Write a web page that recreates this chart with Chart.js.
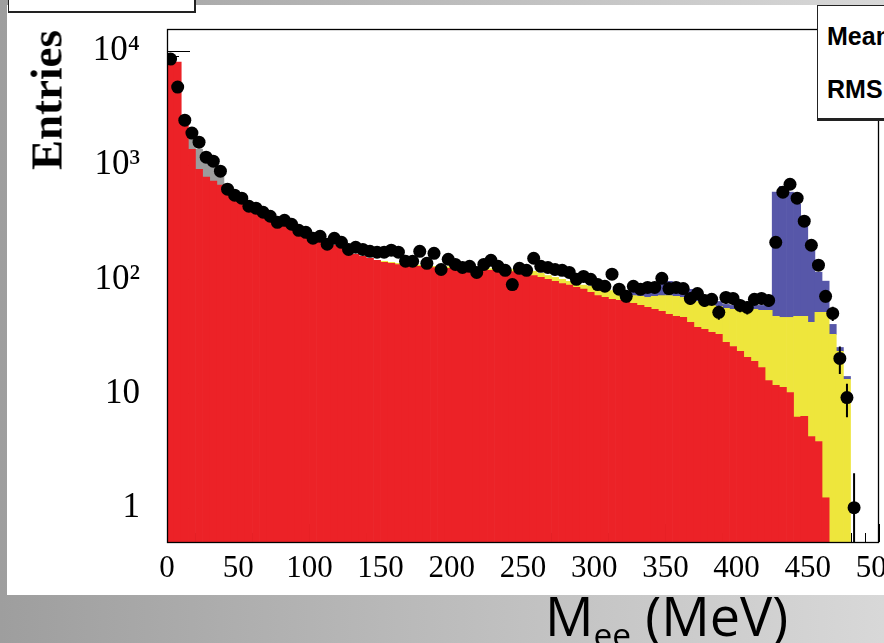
<!DOCTYPE html>
<html><head><meta charset="utf-8">
<script src="https://cdn.jsdelivr.net/npm/chart.js@4"></script>
<style>
html,body{margin:0;padding:0;}
body{width:884px;height:643px;overflow:hidden;position:relative;background:linear-gradient(90deg,#9e9e9e 0%,#b9b9b9 45%,#d8d8d8 100%);}
#panel{position:absolute;left:7px;top:5px;width:877px;height:590px;background:#fff;}
#wrap{position:absolute;left:0;top:0;width:884px;height:643px;}
canvas{display:block;}
.box{position:absolute;background:#fff;box-sizing:border-box;}
#tlbox{left:8px;top:-12px;width:188px;height:25px;border:1px solid #222;border-right-width:2px;border-bottom-width:2px;}
#stat{left:817px;top:5px;width:80px;height:116px;border:1px solid #222;border-bottom-width:3px;border-right:none;}
.st{position:absolute;left:9px;font:bold 25px 'Liberation Sans',Arial,sans-serif;line-height:1;color:#000;white-space:nowrap;}
#ytitle{position:absolute;left:47px;top:100px;transform:translate(-50%,-50%) rotate(-90deg);font:bold 45px 'Liberation Serif',serif;line-height:1;white-space:nowrap;color:#000;}
#xtitle{position:absolute;left:545px;top:588px;font:54px 'Open Sans',sans-serif;line-height:1;white-space:nowrap;color:#000;}
#xtitle sub{font-size:0.62em;vertical-align:-0.32em;line-height:0;}
</style></head>
<body>
<div id="panel"></div>
<div id="wrap"><canvas id="c" width="884" height="643"></canvas></div>
<div class="box" id="tlbox"></div>
<div class="box" id="stat"><span class="st" style="top:18px">Mean</span><span class="st" style="top:71px">RMS</span></div>
<div id="ytitle">Entries</div>
<div id="xtitle">M<sub>ee</sub> (MeV)</div>
<script>
// bin centres (MeV), 5 MeV bins from 0 to 500
const BIN_CENTERS = [2.5,7.5,12.5,17.5,22.5,27.5,32.5,37.5,42.5,47.5,
 52.5,57.5,62.5,67.5,72.5,77.5,82.5,87.5,92.5,97.5,
 102.5,107.5,112.5,117.5,122.5,127.5,132.5,137.5,142.5,147.5,
 152.5,157.5,162.5,167.5,172.5,177.5,182.5,187.5,192.5,197.5,
 202.5,207.5,212.5,217.5,222.5,227.5,232.5,237.5,242.5,247.5,
 252.5,257.5,262.5,267.5,272.5,277.5,282.5,287.5,292.5,297.5,
 302.5,307.5,312.5,317.5,322.5,327.5,332.5,337.5,342.5,347.5,
 352.5,357.5,362.5,367.5,372.5,377.5,382.5,387.5,392.5,397.5,
 402.5,407.5,412.5,417.5,422.5,427.5,432.5,437.5,442.5,447.5,
 452.5,457.5,462.5,467.5,472.5,477.5,482.5,487.5,492.5,497.5];

const RED = [8200,8000,2640,1380,922,785,724,668,616,568,
 524,474,437,403,372,343,316,298,275,258,
 238,224,211,199,187,176,166,159,153,147,
 141,138,135,135,133,130,130,127,127,125,
 125,125,122,122,122,120,120,117,117,115,
 111,108,104,100,96,92,89,85,82,77,
 72,69.5,66.8,65.4,64.1,61.6,59.1,56.8,54.6,52.4,
 49.3,47.4,46.4,42,37.9,36.4,34.3,32.9,28,25.8,
 23.4,20.7,19.1,16.9,13,11.8,11.3,10.2,6.2,6.3,
 4.2,3.8,1.22,null,null,null,null,null,null,null];

const GRAY = [null,null,null,380,458,299,296,218,25,null,
 null,null,null,null,null,null,null,null,null,null,
 null,null,null,null,null,null,null,null,null,null,
 null,null,null,null,null,null,null,null,null,null,
 null,null,null,null,null,null,null,null,null,null,
 null,null,null,null,null,null,null,null,null,null,
 null,null,null,null,null,null,null,null,null,null,
 null,null,null,null,null,null,null,null,null,null,
 null,null,null,null,null,null,null,null,null,null,
 null,null,null,null,null,null,null,null,null,null];

const YELLOW = [null,null,null,null,null,null,null,null,null,null,
 null,null,null,null,null,null,null,null,null,null,
 null,null,null,null,null,null,null,null,null,null,
 3,3,3,3,3,3,3,3,4,4,
 4,4,4,4,4,4,4,4,5,5,
 9,9.5,9,8,8,8,7,7,7,10,
 13,12.5,13,11.6,10,10.4,12,12.7,16.4,19.6,
 22.7,23.6,23.1,24.8,26.2,25.2,24.8,25.1,27.7,28.8,
 30.1,33.9,35.5,36.6,40.5,35.6,35.1,36.2,41.2,41.1,
 37.8,47.6,50.2,32.9,23.4,13.3,null,null,null,null];

const BLUE = [null,null,null,null,null,null,null,null,null,null,
 null,null,null,null,null,null,null,null,null,null,
 null,null,null,null,null,null,null,null,null,null,
 null,null,null,null,null,null,null,null,null,null,
 null,null,null,null,null,null,null,null,null,null,
 null,null,null,null,null,null,null,null,null,null,
 null,null,null,3,4.5,6.5,9,12.5,14,22,
 24,23,20.5,15,8,8,7.7,6,4.6,4.5,
 5.6,4.5,4.5,5.6,5.6,533,608,534,408,245,
 141,64,45,7.4,1.9,0.8,null,null,null,null];

const DATA = [8510,4830,2480,1910,1590,1175,1084,886,616,546,
 514,437,420,387,357,316,329,304,269,258,
 229,238,203,229,211,183,191,183,176,173,
 173,180,173,144,144,176,138,169,122,150,
 135,127,130,115,135,147,130,120,90,125,
 120,153,130,127,122,120,115,100,106,100,
 90,87,111,82,71,87,82,85,85,102,
 83,85,83,68,75,65.4,66.8,51.4,69.5,68,
 59.1,56.8,66.8,68,65.4,211,580,681,514,323,
 199,133,71,50.3,20.3,9.2,1,null,null,null];

const DATA_ERR = [92,70,50,44,40,34,33,30,25,23,
 23,21,20,20,19,18,18,17,16,16,
 15,15,14,15,15,14,14,14,13,13,
 13,13,13,12,12,13,12,13,11,12,
 12,11,11,11,12,12,11,11,9.5,11,
 11,12,11,11,11,11,11,10,10,10,
 9.5,9.3,10.5,9,8.4,9.3,9,9.2,9.2,10,
 9.1,9.2,9.1,8.2,8.7,8.1,8.2,7.2,8.3,8.2,
 7.7,7.5,8.2,8.2,8.1,14.5,24,26,23,18,
 14,11.5,8.4,7.1,5.5,3,1,null,null,null];

const X_TICKS = [0,50,100,150,200,250,300,350,400,450,500];
const Y_TICKS = [1,10,100,1000,10000];
const Y_TICK_LABELS = ['1','10','10\u00B2','10\u00B3','10\u2074'];

function toPts(arr){
  const out=[];
  arr.forEach((v,i)=>{ if(v!==null) out.push({x:BIN_CENTERS[i], y:v, err:DATA_ERR[i]}); });
  return out;
}
function toBars(arr){
  const out=[];
  arr.forEach((v,i)=>{ if(v!==null) out.push({x:BIN_CENTERS[i], y:v}); });
  return out;
}

const rootAxes = {
  id:'rootAxes',
  beforeDatasetsDraw(chart){
    const {ctx, chartArea:a, scales:{x,y}} = chart;
    ctx.save(); ctx.strokeStyle='#000'; ctx.lineWidth=1;
    ctx.beginPath();
    for(let v=0; v<=500; v+=10){
      const px=Math.round(x.getPixelForValue(v))+0.5;
      const len = (v%50===0)?18:9;
      ctx.moveTo(px,a.bottom); ctx.lineTo(px,a.bottom-len);
    }
    for(let d=-1; d<=4; d++){
      for(let m=1; m<10; m++){
        const v=m*Math.pow(10,d);
        if(v<y.min||v>y.max) continue;
        const py=Math.round(y.getPixelForValue(v))+0.5;
        const len=(m===1)?23:12;
        ctx.moveTo(a.left,py); ctx.lineTo(a.left+len,py);
      }
    }
    ctx.stroke(); ctx.restore();
  },
  beforeDatasetDraw(chart,args){
    if(args.meta.type!=='scatter') return;
    const {ctx, chartArea:a, scales:{x,y}} = chart;
    ctx.save(); ctx.strokeStyle='#000'; ctx.lineWidth=2;
    ctx.beginPath();
    args.meta._dataset.data.forEach(p=>{
      if(p.err==null) return;
      const px=x.getPixelForValue(p.x);
      const lo=p.y-p.err;
      const pyLo = lo>y.min ? y.getPixelForValue(lo) : a.bottom;
      const pyHi = y.getPixelForValue(p.y+p.err);
      ctx.moveTo(px,pyLo); ctx.lineTo(px,pyHi);
    });
    ctx.stroke(); ctx.restore();
  },
  afterDatasetsDraw(chart){
    const {ctx, chartArea:a} = chart;
    ctx.save(); ctx.strokeStyle='#000'; ctx.lineWidth=1.3;
    ctx.strokeRect(Math.round(a.left)+0.5, Math.round(a.top)+0.5, Math.round(a.right-a.left)-1, Math.round(a.bottom-a.top));
    ctx.restore();
  }
};

new Chart(document.getElementById('c'), {
  type:'bar',
  data:{ datasets:[
    {label:'Data', type:'scatter', data:toPts(DATA), backgroundColor:'#000', borderColor:'#000',
      pointRadius:6.5, pointHoverRadius:6.5, borderWidth:0, order:-1, stack:'data', showLine:false},
    {label:'red', data:toBars(RED), backgroundColor:'#ec2227', stack:'mc'},
    {label:'gray', data:toBars(GRAY), backgroundColor:'#9c9c9c', stack:'mc'},
    {label:'yellow', data:toBars(YELLOW), backgroundColor:'#eee63c', stack:'mc'},
    {label:'blue', data:toBars(BLUE), backgroundColor:'#5757a9', stack:'mc'}
  ]},
  options:{
    responsive:false, animation:false, devicePixelRatio:1,
    layout:{autoPadding:false, padding:{left:0,right:5,top:29,bottom:0}},
    plugins:{legend:{display:false}, tooltip:{enabled:false}},
    datasets:{bar:{barPercentage:1, categoryPercentage:1, borderWidth:0, grouped:false}},
    scales:{
      x:{type:'linear', min:0, max:500, offset:false, stacked:true,
        grid:{display:false, drawTicks:false}, border:{display:false},
        ticks:{autoSkip:false, maxRotation:0, padding:8, color:'#000', font:{family:'Liberation Serif', size:31}},
        afterBuildTicks(s){ s.ticks = X_TICKS.map(v=>({value:v})); },
        afterFit(s){ s.height = 101; s.paddingLeft = 0; s.paddingRight = 0; }
      },
      y:{type:'logarithmic', min:0.5, max:15600, stacked:true,
        grid:{display:false, drawTicks:false}, border:{display:false},
        ticks:{autoSkip:false, padding:27, color:'#000', font:{family:'Liberation Serif', size:35},
          callback(v){ const k=Y_TICKS.indexOf(v); return k>=0?Y_TICK_LABELS[k]:''; }},
        afterBuildTicks(s){ s.ticks = Y_TICKS.map(v=>({value:v})); },
        afterFit(s){ s.width = 167; s.paddingTop = 0; s.paddingBottom = 0; }
      }
    }
  },
  plugins:[rootAxes]
});
</script>
</body></html>
